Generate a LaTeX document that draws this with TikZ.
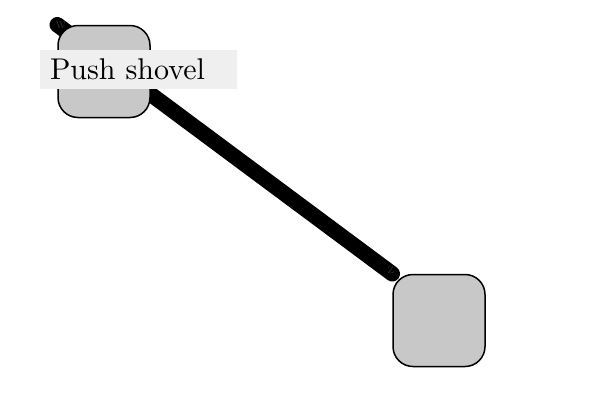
\documentclass[tikz,border=0pt]{standalone}
\usetikzlibrary{backgrounds}
\definecolor{boxgray}{HTML}{C8C8C8}
\definecolor{labelgray}{HTML}{EFEFEF}
\definecolor{tipgray}{HTML}{3C3C3C}
\begin{document}
\begin{tikzpicture}[x=1pt,y=-1pt,
  statebox/.style={draw=black,line width=1.5pt,fill=boxgray,rounded corners=20pt,minimum width=92pt,minimum height=92pt,inner sep=0pt},
  labelbox/.style={fill=labelgray,minimum width=197pt,minimum height=39pt,inner sep=0pt,text width=177pt,align=left},
  endlabel/.style={text=tipgray,inner sep=0pt,font=\fontsize{15}{17}\selectfont},
  link/.style={line width=15.5pt,line cap=round,draw=black}]
\useasboundingbox (0,0) rectangle (600,400);
\node[statebox] (a) at (104,71.5) {};
\node[statebox] (b) at (439,320.5) {};
\begin{pgfonlayer}{background}
\draw[link] (a.north west) -- (b.north west);
\end{pgfonlayer}
\node[endlabel] (w) at (61,25) {w};
\node[endlabel] (z) at (391,270) {z};
\node[labelbox] (lab) at (138.5,69.5) {\scalebox{3}{Push shovel}};
\end{tikzpicture}
\end{document}
